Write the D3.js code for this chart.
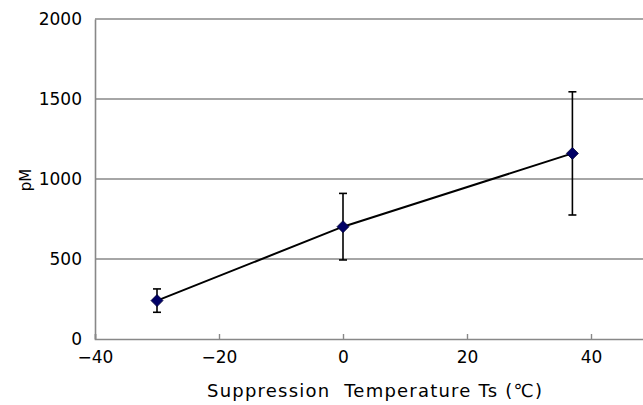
<!DOCTYPE html>
<html><head><meta charset="utf-8">
<script src="https://cdn.jsdelivr.net/npm/d3@7"></script>
<style>body{margin:0;background:#fff}svg{display:block}</style>
</head><body>
<svg id="c" width="643" height="405"></svg>
<script>
const temps = [-30, 0, 37];
const values = [240, 702, 1160];
const errLow = [167, 494, 775];
const errHigh = [313, 910, 1545];
const yTicks = [0, 500, 1000, 1500, 2000];
const xTicks = [-40, -20, 0, 20, 40];

(function () {
const svg = d3.select("#c");
const padL = 95, padT = 19, padB = 339;
const x = d3.scaleLinear().domain([-40, 60]).range([padL, padL + 620]);
const y = d3.scaleLinear().domain([0, 2000]).range([padB, padT]);
const font = "'DejaVu Sans', 'Liberation Sans', sans-serif";

// gridlines
svg.append("g").selectAll("line").data(yTicks.filter(d => d > 0)).join("line")
  .attr("x1", padL).attr("x2", 643)
  .attr("y1", d => y(d)).attr("y2", d => y(d))
  .attr("stroke", "#888").attr("stroke-width", 1.6);

// y axis
const ya = svg.append("g").attr("transform", `translate(${padL},0)`)
  .call(d3.axisLeft(y).tickValues(yTicks).tickSize(0).tickPadding(13).tickFormat(d3.format("d")));
ya.select(".domain").attr("stroke", "#888").attr("stroke-width", 1.6);
ya.selectAll("text").attr("font-family", font).attr("font-size", 17).attr("fill", "#000");

// x axis
const xa = svg.append("g").attr("transform", `translate(0,${padB})`)
  .call(d3.axisBottom(x).tickValues(xTicks).tickSize(-5).tickPadding(12)
    .tickFormat(d => d < 0 ? "\u2212" + Math.abs(d) : d));
xa.select(".domain").attr("stroke", "#888").attr("stroke-width", 1.6);
xa.selectAll(".tick line").attr("stroke", "#888").attr("stroke-width", 1.4);
xa.selectAll("text").attr("font-family", font).attr("font-size", 17).attr("fill", "#000");

// line
const data = temps.map((t, i) => ({t, v: values[i], lo: errLow[i], hi: errHigh[i]}));
svg.append("path").datum(data)
  .attr("d", d3.line().x(d => x(d.t)).y(d => y(d.v)))
  .attr("fill", "none").attr("stroke", "#000").attr("stroke-width", 2);

// error bars
const eb = svg.append("g").attr("stroke", "#000").attr("stroke-width", 1.6);
eb.selectAll(".v").data(data).join("line").attr("class", "v")
  .attr("x1", d => x(d.t)).attr("x2", d => x(d.t))
  .attr("y1", d => y(d.lo)).attr("y2", d => y(d.hi));
eb.selectAll(".h").data(data.flatMap(d => [{t: d.t, e: d.lo}, {t: d.t, e: d.hi}])).join("line").attr("class", "h")
  .attr("x1", d => x(d.t) - 4).attr("x2", d => x(d.t) + 4)
  .attr("y1", d => y(d.e)).attr("y2", d => y(d.e));

// markers
svg.append("g").selectAll("path").data(data).join("path")
  .attr("transform", d => `translate(${x(d.t)},${y(d.v)})`)
  .attr("d", "M0,-6L6,0L0,6L-6,0Z")
  .attr("fill", "#000066").attr("stroke", "#000033").attr("stroke-width", 0.8);

// axis titles
svg.append("text").attr("transform", "translate(31,180) rotate(-90)")
  .attr("text-anchor", "middle").attr("font-family", font).attr("font-size", 15)
  .text("pM");
svg.append("text").attr("x", 207).attr("y", 397)
  .attr("font-family", font).attr("font-size", 18)
  .attr("textLength", 335).attr("lengthAdjust", "spacing")
  .style("white-space", "pre")
  .text("Suppression  Temperature Ts (\u2103)");
})();
</script>
</body></html>
